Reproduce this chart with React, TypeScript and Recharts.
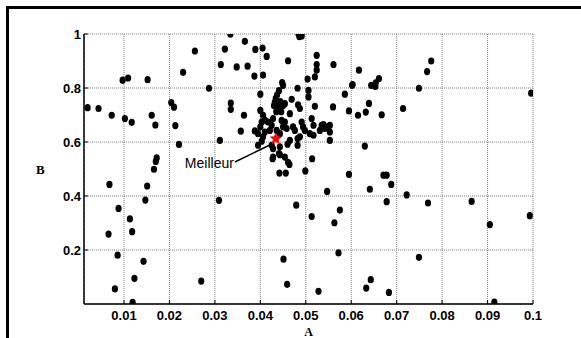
import React from 'react';
import {
  ScatterChart,
  Scatter,
  XAxis,
  YAxis,
  CartesianGrid,
  ReferenceLine,
  ReferenceDot,
} from 'recharts';

// A values (x) of every evaluated solution
const A_VALUES = [
  0.002, 0.0044, 0.0073, 0.0097, 0.0109, 0.0102, 0.0117, 0.0152, 0.0161, 0.0169,
  0.0204, 0.021, 0.0213, 0.023, 0.0256, 0.0287, 0.0221, 0.0311, 0.0313, 0.0172,
  0.017, 0.0166, 0.0068, 0.0151, 0.0147, 0.0088, 0.0113, 0.0066, 0.0118, 0.0086,
  0.0143, 0.0123, 0.027, 0.008, 0.0119, 0.0309,
  0.0464, 0.0442, 0.0456, 0.0499, 0.0595, 0.0547, 0.0479, 0.0513, 0.0575, 0.0563,
  0.0572, 0.0451, 0.0459, 0.0528,
  0.0671, 0.0678, 0.0641, 0.0688, 0.0678, 0.0722, 0.0769, 0.0865, 0.0905, 0.0993,
  0.0749, 0.0643, 0.0633, 0.0683, 0.0915,
  0.0586, 0.0602, 0.0617, 0.0595, 0.0615, 0.0632, 0.0639, 0.0644, 0.0653, 0.0654,
  0.0661, 0.0667, 0.063, 0.0714, 0.0749, 0.0767, 0.0776, 0.0996,
  0.0334, 0.0484, 0.0489, 0.0486, 0.0491, 0.0366, 0.0322, 0.0389, 0.0405, 0.0414,
  0.0348, 0.0372, 0.0387, 0.0406, 0.0461, 0.0524, 0.0524, 0.0524, 0.0561, 0.052,
  0.0504, 0.0603, 0.045, 0.0482, 0.04, 0.0506, 0.0469, 0.0335, 0.0335, 0.052,
  0.056, 0.0364, 0.0357, 0.0403, 0.0388, 0.0553, 0.0514, 0.0441, 0.0427, 0.0461,
  0.0482, 0.0482, 0.046,
  0.0448, 0.0441, 0.0437, 0.0434, 0.0432, 0.043, 0.0437, 0.0444, 0.045, 0.0454,
  0.044, 0.0446, 0.0435, 0.0483, 0.0487, 0.0465, 0.0506, 0.04, 0.0406, 0.041,
  0.0403, 0.04, 0.0417, 0.0428, 0.0425, 0.0421, 0.0447, 0.0454, 0.045, 0.0395,
  0.0406, 0.041, 0.0436, 0.0443, 0.0458, 0.0472, 0.0476, 0.0491, 0.0494, 0.0498,
  0.0513, 0.0517, 0.0535, 0.0542, 0.0531, 0.0553, 0.0553, 0.0487, 0.0509, 0.0517,
  0.0465, 0.0443, 0.0425, 0.0428, 0.0428, 0.0443, 0.0454, 0.0395, 0.0539, 0.055,
];

// B values (y), same order
const B_VALUES = [
  0.727, 0.724, 0.699, 0.829, 0.837, 0.687, 0.673, 0.831, 0.699, 0.663,
  0.746, 0.729, 0.661, 0.858, 0.937, 0.799, 0.591, 0.606, 0.887, 0.541,
  0.528, 0.499, 0.443, 0.437, 0.385, 0.354, 0.315, 0.259, 0.268, 0.181,
  0.158, 0.095, 0.085, 0.056, 0.006, 0.384,
  0.517, 0.485, 0.485, 0.493, 0.48, 0.417, 0.366, 0.324, 0.348, 0.301,
  0.189, 0.166, 0.073, 0.047,
  0.477, 0.477, 0.425, 0.443, 0.379, 0.404, 0.374, 0.38, 0.294, 0.327,
  0.173, 0.09, 0.059, 0.043, 0.007,
  0.777, 0.81, 0.866, 0.715, 0.699, 0.711, 0.743, 0.81, 0.806, 0.819,
  0.835, 0.701, 0.585, 0.724, 0.799, 0.861, 0.9, 0.781,
  0.999, 1.0, 0.998, 0.99, 0.993, 0.973, 0.944, 0.943, 0.948, 0.917,
  0.878, 0.881, 0.844, 0.848, 0.901, 0.921, 0.887, 0.866, 0.887, 0.841,
  0.833, 0.813, 0.81, 0.799, 0.777, 0.767, 0.758, 0.744, 0.721, 0.732,
  0.73, 0.699, 0.64, 0.603, 0.641, 0.606, 0.538, 0.557, 0.538, 0.525,
  0.613, 0.588, 0.592,
  0.82, 0.79, 0.775, 0.762, 0.748, 0.735, 0.741, 0.75, 0.735, 0.742,
  0.722, 0.712, 0.712, 0.738, 0.724, 0.705, 0.791, 0.717, 0.699, 0.681,
  0.674, 0.656, 0.674, 0.687, 0.662, 0.643, 0.68, 0.674, 0.656, 0.631,
  0.619, 0.637, 0.643, 0.631, 0.65, 0.656, 0.643, 0.674, 0.656, 0.643,
  0.687, 0.662, 0.662, 0.65, 0.643, 0.662, 0.637, 0.619, 0.631, 0.625,
  0.606, 0.582, 0.588, 0.575, 0.544, 0.553, 0.544, 0.588, 0.664, 0.658,
];

const BEST = [{ a: 0.0434, b: 0.612 }];

const X_TICKS = [0.01, 0.02, 0.03, 0.04, 0.05, 0.06, 0.07, 0.08, 0.09, 0.1];
const Y_TICKS = [0.2, 0.4, 0.6, 0.8, 1];

const points = A_VALUES.map((a, i) => ({ a, b: B_VALUES[i] }));

const SANS = 'Arial, "Liberation Sans", sans-serif';
const SERIF = '"Times New Roman", "Liberation Serif", serif';

const Dot = (props: any) => (
  <ellipse cx={props.cx} cy={props.cy} rx={3.1} ry={3.6} fill="#000" />
);

const Star = (props: any) => {
  const { cx, cy } = props;
  const pts: string[] = [];
  for (let i = 0; i < 10; i++) {
    const r = i % 2 === 0 ? 5.5 : 2.4;
    const ang = -Math.PI / 2 + (i * Math.PI) / 5;
    pts.push(`${cx + r * Math.cos(ang)},${cy + r * Math.sin(ang)}`);
  }
  return <polygon points={pts.join(' ')} fill="#ff0000" stroke="#ff0000" strokeWidth={1} />;
};

const XTick = (props: any) => {
  const { x, y, payload } = props;
  return (
    <g>
      <line x1={x} x2={x} y1={y} y2={y - 4} stroke="#000" />
      <text x={x} y={y + 16} textAnchor="middle" fontFamily={SANS} fontSize={13} fontWeight="bold" fill="#000">
        {String(payload.value)}
      </text>
    </g>
  );
};

const YTick = (props: any) => {
  const { x, y, payload } = props;
  return (
    <g>
      <line x1={x} x2={x + 4} y1={y} y2={y} stroke="#000" />
      <text x={x - 3} y={y} dy="0.35em" textAnchor="end" fontFamily={SANS} fontSize={13} fontWeight="bold" fill="#000">
        {String(payload.value)}
      </text>
    </g>
  );
};

export default function App() {
  return (
    <div style={{ position: 'absolute', left: 0, top: 0, width: 581, height: 338, background: '#fff' }}>
      <div
        style={{
          position: 'absolute',
          left: 6,
          top: 6,
          right: 0,
          bottom: 0,
          borderTop: '3px solid #000',
          borderLeft: '3px solid #000',
        }}
      />
      <div style={{ position: 'absolute', left: 0, top: 0 }}>
        <ScatterChart width={581} height={338} margin={{ top: 34, right: 48, bottom: 0, left: 0 }}>
          <CartesianGrid stroke="#808080" strokeDasharray="1 1" />
          <XAxis
            type="number"
            dataKey="a"
            domain={[0.0012, 0.1]}
            ticks={X_TICKS}
            allowDataOverflow
            height={34}
            tickSize={0}
            tickLine={false}
            tickMargin={0}
            tick={<XTick />}
            axisLine={{ stroke: '#000', strokeWidth: 1.5 }}
            label={{ value: 'A', position: 'insideBottom', offset: 2.5, fontFamily: SERIF, fontWeight: 'bold', fontSize: 12, fill: '#000' }}
          />
          <YAxis
            type="number"
            dataKey="b"
            domain={[0, 1]}
            ticks={Y_TICKS}
            allowDataOverflow
            width={84}
            tickSize={0}
            tickLine={false}
            tickMargin={0}
            tick={<YTick />}
            axisLine={{ stroke: '#000', strokeWidth: 1.5 }}
            label={{ value: 'B', position: 'insideLeft', offset: 36, angle: 0, fontFamily: SERIF, fontWeight: 'bold', fontSize: 13, fill: '#000' }}
          />
          <Scatter data={points} shape={<Dot />} isAnimationActive={false} />
          <ReferenceLine
            segment={[
              { x: 0.0344, y: 0.526 },
              { x: 0.0421, y: 0.589 },
            ]}
            stroke="#000"
            strokeWidth={1.5}
          />
          <ReferenceDot
            x={0.0344}
            y={0.522}
            r={0}
            stroke="none"
            label={{ value: 'Meilleur', position: 'left', offset: 1, fontFamily: SANS, fontSize: 14, fill: '#000' }}
          />
          <Scatter data={BEST} shape={<Star />} isAnimationActive={false} />
        </ScatterChart>
      </div>
    </div>
  );
}
